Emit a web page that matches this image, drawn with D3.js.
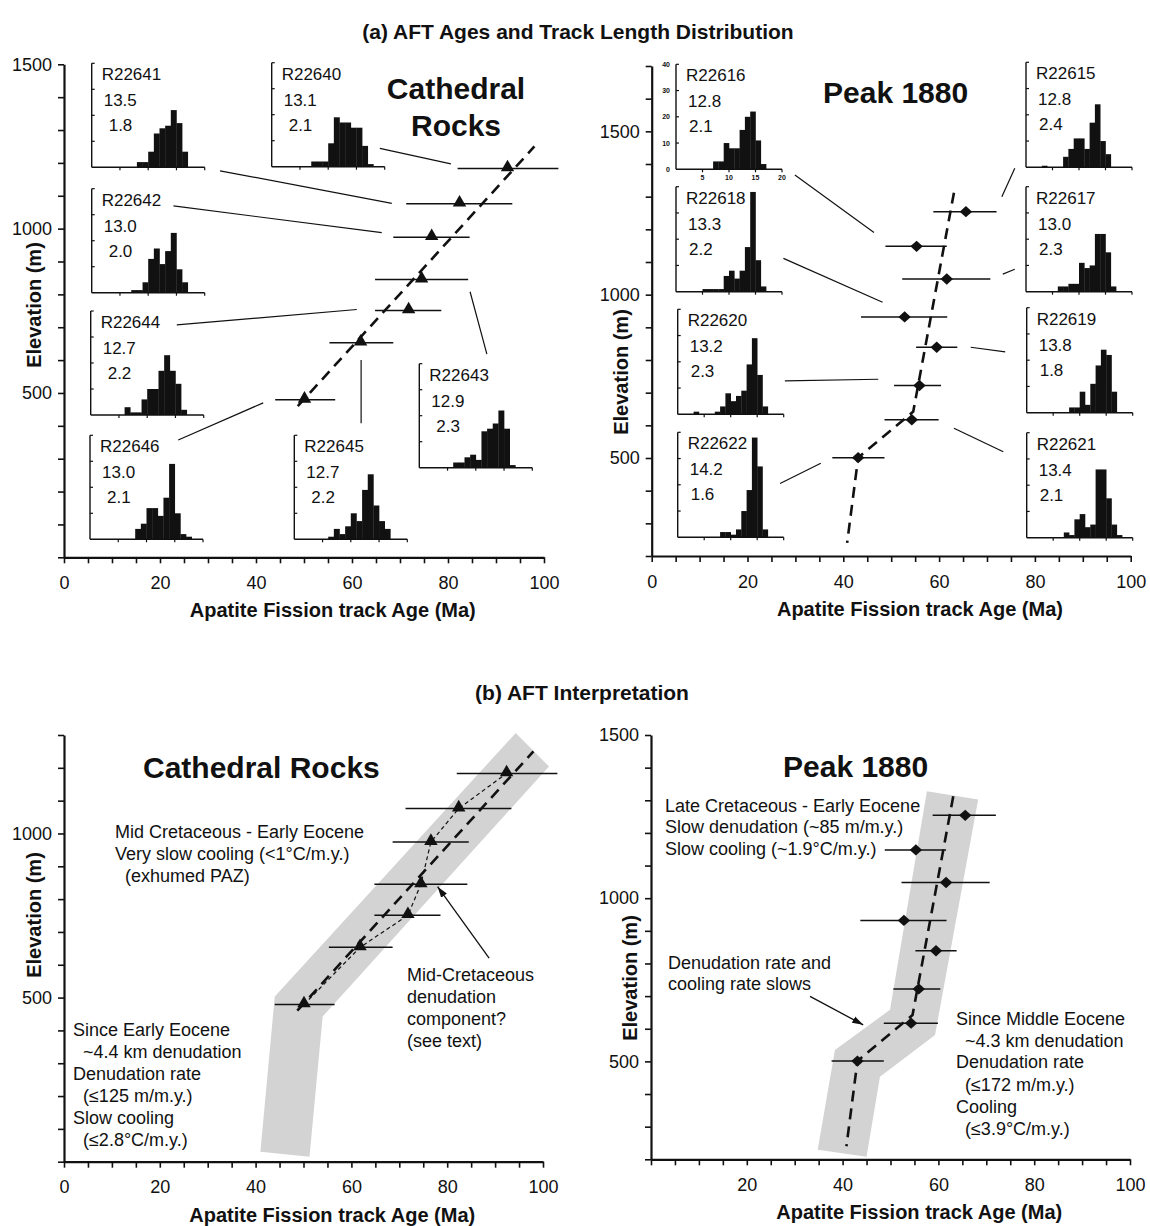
<!DOCTYPE html>
<html>
<head>
<meta charset="utf-8">
<script src="https://cdn.jsdelivr.net/npm/d3@7"></script>
<style>
  body { margin: 0; background: #fff; }
  svg text { font-family: "Liberation Sans", Arial, Helvetica, sans-serif; fill: #111; }
</style>
</head>
<body>
<svg id="fig" width="1150" height="1226"></svg>
<script>
// ---------------- Cathedral Rocks samples (highest to lowest) ----------------
const cathedralSamples   = ["R22640", "R22641", "R22642", "R22643", "R22644", "R22645", "R22646"];
const cathedralAge       = [92.4, 82.4, 76.6, 74.5, 71.8, 61.8, 50.1];      // Ma
const cathedralAgeLo     = [82.0, 71.3, 68.6, 64.8, 64.8, 55.3, 44.0];
const cathedralAgeHi     = [103.0, 93.4, 84.5, 84.2, 78.6, 68.6, 56.5];
const cathedralElev      = [1183, 1076, 974, 845, 751, 653, 479];           // m
const cathedralMeanLen   = ["13.1", "13.5", "13.0", "12.9", "12.7", "12.7", "13.0"];
const cathedralSdLen     = ["2.1", "1.8", "2.0", "2.3", "2.2", "2.2", "2.1"];
const cathedralBinStart  = [7, 8, 7, 6, 6, 6, 8];                           // first 1-µm bin
const cathedralCounts = [
  [2, 2, 2, 9, 19, 17, 17, 15, 15, 8, 1],
  [2, 2, 6, 13, 15, 16, 22, 17, 6],
  [1, 1, 4, 13, 17, 11, 16, 23, 9, 4],
  [2, 2, 4, 5, 3, 14, 15, 17, 22, 15, 1],
  [3, 1, 1, 6, 10, 10, 17, 23, 17, 12, 2],
  [1, 4, 2, 5, 10, 7, 19, 25, 13, 7, 4],
  [4, 6, 12, 12, 9, 16, 29, 10, 2, 1]
];
// leader lines: [age, elevation] from inset to sample
const cathedralLeaderFrom = [[65.8, 1244], [32.5, 1176], [22.8, 1069], [84.6, 808], [23.5, 707], [61.9, 600], [23.8, 357]];
const cathedralLeaderTo   = [[80.6, 1197], [68.3, 1077], [66.2, 988], [88.1, 618], [61.0, 754], [61.9, 408], [41.5, 470]];
// age-elevation trend and interpretation envelope
const cathedralFitAge   = [48.7, 98.0];
const cathedralFitElev  = [460, 1250];
const cathedralBandAge  = [94.3, 101.25, 54.0, 51.25, 41.0, 44.0];
const cathedralBandElev = [1306, 1204, 442, 15, 30, 503];

// ---------------- Peak 1880 samples (highest to lowest) ----------------
const peakSamples   = ["R22615", "R22616", "R22617", "R22618", "R22619", "R22620", "R22621", "R22622"];
const peakAge       = [65.6, 55.3, 61.6, 52.8, 59.5, 55.9, 54.3, 43.1];
const peakAgeLo     = [58.8, 48.8, 52.3, 43.7, 55.2, 50.6, 48.6, 37.7];
const peakAgeHi     = [72.0, 61.6, 70.7, 61.7, 63.8, 60.4, 59.9, 48.6];
const peakElev      = [1254, 1148, 1048, 932, 839, 722, 617, 501];
const peakMeanLen   = ["12.8", "12.8", "13.0", "13.3", "13.8", "13.2", "13.4", "14.2"];
const peakSdLen     = ["2.4", "2.1", "2.3", "2.2", "1.8", "2.3", "2.1", "1.6"];
const peakBinStart  = [3, 7, 6, 5, 8, 3, 7, 8];
const peakCounts = [
  [0.6, 0, 0, 0, 4, 7, 11, 11, 7, 17, 24, 10, 5],
  [3, 3, 10, 8, 8, 15, 20, 22, 11, 2],
  [2, 2, 3, 3, 11, 9, 10, 22, 22, 15, 2],
  [1, 1, 1, 1, 6, 8, 5, 8, 17, 38, 12, 2],
  [2, 2, 8, 3, 11, 18, 24, 22, 8],
  [1, 0, 0, 0, 1, 3, 8, 5, 7, 9, 19, 29, 15, 3],
  [2, 1, 7, 9, 4, 5, 26, 26, 15, 5, 1],
  [2, 2, 1, 3, 10, 18, 38, 27, 3]
];
const peakLeaderFrom = [[75.8, 1387], [29.9, 1366], [75.8, 1078], [27.5, 1111], [73.8, 825], [27.8, 736], [73.4, 519], [26.8, 422]];
const peakLeaderTo   = [[73.1, 1300], [46.4, 1190], [73.3, 1063], [48.2, 977], [66.6, 839], [47.3, 741], [63.1, 591], [35.3, 484]];
const peakFitAge   = [63.1, 54.6, 43.1, 40.8];
const peakFitElev  = [1312, 642, 501, 240];
const peakBandAge  = [57.6, 68.3, 59.3, 47.8, 45.0, 34.8, 38.4, 49.9];
const peakBandElev = [1328, 1302, 581, 453, 208, 229, 535, 658];

// inset scales: track length (µm) and count
const lengthTicks = [5, 10, 15, 20];
const countTicks  = [10, 20, 30, 40];

// ---------------- layout ----------------
const panelLayout = {
  aL: { x0: 64,    x1: 544,    yDomain: [0, 1500],   yBottom: 557.3,  yTop: 64.3, xLabels: [0, 20, 40, 60, 80, 100], yLabels: [500, 1000, 1500], yTitle: [41, 305] },
  aR: { x0: 651.7, x1: 1130.7, yDomain: [200, 1700], yBottom: 556,    yTop: 66,   xLabels: [0, 20, 40, 60, 80, 100], yLabels: [500, 1000, 1500], yTitle: [628, 372] },
  bL: { x0: 64,    x1: 543,    yDomain: [0, 1300],   yBottom: 1161.7, yTop: 735,  xLabels: [0, 20, 40, 60, 80, 100], yLabels: [500, 1000],       yTitle: [41, 915] },
  bR: { x0: 651,   x1: 1130,   yDomain: [200, 1500], yBottom: 1159.3, yTop: 735,  xLabels: [20, 40, 60, 80, 100],    yLabels: [500, 1000, 1500], yTitle: [637, 978] }
};
// inset origin (left axis, baseline) in page pixels
const cathedralInsetPos = [[271.7, 166.7], [91.7, 167.3], [91.7, 292.7], [419.3, 467.7], [90.7, 415], [294.3, 539.3], [90, 539.3]];
const peakInsetPos = [[1026, 167.3], [676, 169.3], [1026, 291.7], [676, 291.7], [1026.7, 412.7], [677.7, 414.3], [1026.7, 537.7], [677.7, 537.3]];

const ink = "#111";
const svg = d3.select("#fig");
const defs = svg.append("defs");
defs.append("marker")
  .attr("id", "arrowhead").attr("viewBox", "0 0 10 10")
  .attr("refX", 10).attr("refY", 5)
  .attr("markerWidth", 11).attr("markerHeight", 11)
  .attr("markerUnits", "userSpaceOnUse").attr("orient", "auto")
  .append("path").attr("d", "M0,1.8 L10,5 L0,8.2 Z").attr("fill", ink);

function makeScales(p) {
  return {
    x: d3.scaleLinear().domain([0, 100]).range([p.x0, p.x1]),
    y: d3.scaleLinear().domain(p.yDomain).range([p.yBottom, p.yTop])
  };
}

function drawAxes(g, S, p) {
  const xAxis = d3.axisBottom(S.x)
    .tickValues(d3.range(0, 101, 5))
    .tickSize(6).tickSizeOuter(0).tickPadding(13)
    .tickFormat(d => p.xLabels.includes(d) ? d : "");
  const gx = g.append("g").attr("transform", `translate(0,${p.yBottom})`).call(xAxis);
  const yAxis = d3.axisLeft(S.y)
    .tickValues(d3.range(p.yDomain[0], p.yDomain[1] + 1, 100))
    .tickSize(6).tickSizeOuter(0).tickPadding(6)
    .tickFormat(d => p.yLabels.includes(d) ? d : "");
  const gy = g.append("g").attr("transform", `translate(${p.x0},0)`).call(yAxis);
  [gx, gy].forEach(a => {
    a.select(".domain").attr("stroke", ink).attr("stroke-width", 2.2);
    a.selectAll(".tick line").attr("stroke", ink).attr("stroke-width", 1.6);
    a.selectAll(".tick text").attr("font-size", 18).attr("fill", ink)
      .attr("font-family", '"Liberation Sans", Arial, sans-serif');
  });
  g.append("text")
    .attr("x", S.x(56)).attr("y", p.yBottom + 60)
    .attr("text-anchor", "middle").attr("font-size", 20).attr("font-weight", "bold")
    .text("Apatite Fission track Age (Ma)");
  g.append("text")
    .attr("transform", `translate(${p.yTitle[0]},${p.yTitle[1]}) rotate(-90)`)
    .attr("text-anchor", "middle").attr("font-size", 20).attr("font-weight", "bold")
    .text("Elevation (m)");
}

function drawErrorBars(g, S, lo, hi, elev) {
  g.append("g").selectAll("line").data(elev).join("line")
    .attr("x1", (d, i) => S.x(lo[i])).attr("x2", (d, i) => S.x(hi[i]))
    .attr("y1", d => S.y(d)).attr("y2", d => S.y(d))
    .attr("stroke", ink).attr("stroke-width", 1.5);
}

function drawFit(g, S, ages, elevs, width, dash) {
  const line = d3.line().x(d => S.x(d[0])).y(d => S.y(d[1]));
  g.append("path").datum(ages.map((a, i) => [a, elevs[i]]))
    .attr("d", line).attr("fill", "none").attr("stroke", ink)
    .attr("stroke-width", width).attr("stroke-dasharray", dash);
}

function drawTriangles(g, S, ages, elevs) {
  const sym = d3.symbol().type(d3.symbolTriangle).size(78);
  g.append("g").selectAll("path").data(ages).join("path")
    .attr("d", sym)
    .attr("transform", (d, i) => `translate(${S.x(d)},${S.y(elevs[i]) - 1})`)
    .attr("fill", ink);
}

function drawDiamonds(g, S, ages, elevs) {
  const sym = d3.symbol().type(d3.symbolSquare).size(64);
  g.append("g").selectAll("path").data(ages).join("path")
    .attr("d", sym)
    .attr("transform", (d, i) => `translate(${S.x(d)},${S.y(elevs[i])}) scale(1.1,1) rotate(45)`)
    .attr("fill", ink);
}

function drawLeaders(g, S, from, to) {
  g.append("g").selectAll("line").data(from).join("line")
    .attr("x1", d => S.x(d[0])).attr("y1", d => S.y(d[1]))
    .attr("x2", (d, i) => S.x(to[i][0])).attr("y2", (d, i) => S.y(to[i][1]))
    .attr("stroke", ink).attr("stroke-width", 1.2);
}

function drawBand(g, S, ages, elevs) {
  g.append("path")
    .datum(ages.map((a, i) => [S.x(a), S.y(elevs[i])]))
    .attr("d", d => "M" + d.join("L") + "Z")
    .attr("fill", "#d3d3d3");
}

// one track-length histogram
function drawInset(g, pos, w, h, name, meanLen, sdLen, start, counts, labelled, sdIndent) {
  const [ox, oy] = pos;
  const lx = d3.scaleLinear().domain([0, 20]).range([ox, ox + w]);
  const ly = d3.scaleLinear().domain([0, 40]).range([oy, oy - h]);
  const ig = g.append("g");
  ig.selectAll("rect").data(counts).join("rect")
    .attr("x", (c, i) => lx(start + i))
    .attr("width", (c, i) => lx(start + i + 1) - lx(start + i) + 0.3)
    .attr("y", c => ly(c))
    .attr("height", c => oy - ly(c))
    .attr("fill", ink);
  ig.append("line").attr("x1", ox).attr("x2", ox + w).attr("y1", oy).attr("y2", oy)
    .attr("stroke", ink).attr("stroke-width", 1.4);
  ig.append("line").attr("x1", ox).attr("x2", ox).attr("y1", oy).attr("y2", oy - h)
    .attr("stroke", ink).attr("stroke-width", 1.4);
  ig.selectAll(".xt").data(lengthTicks).join("line").attr("class", "xt")
    .attr("x1", d => lx(d)).attr("x2", d => lx(d)).attr("y1", oy).attr("y2", oy + 3)
    .attr("stroke", ink).attr("stroke-width", 1.2);
  ig.selectAll(".yt").data(countTicks).join("line").attr("class", "yt")
    .attr("x1", ox).attr("x2", ox + 3).attr("y1", d => ly(d)).attr("y2", d => ly(d))
    .attr("stroke", ink).attr("stroke-width", 1.2);
  if (labelled) {
    ig.selectAll(".xl").data(lengthTicks).join("text").attr("class", "xl")
      .attr("x", d => lx(d)).attr("y", oy + 11)
      .attr("text-anchor", "middle").attr("font-size", 7).attr("font-weight", "bold").text(d => d);
    ig.selectAll(".yl").data([0].concat(countTicks)).join("text").attr("class", "yl")
      .attr("x", ox - 6).attr("y", d => ly(d) + 2.5)
      .attr("text-anchor", "end").attr("font-size", 7).attr("font-weight", "bold").text(d => d);
  }
  const top = oy - h;
  ig.append("text").attr("x", ox + 10).attr("y", top + 17).attr("font-size", 17).text(name);
  ig.append("text").attr("x", ox + 12).attr("y", top + 43).attr("font-size", 17).text(meanLen);
  ig.append("text").attr("x", ox + sdIndent).attr("y", top + 68).attr("font-size", 17).text(sdLen);
}

function addText(g, lines, size, weight) {
  lines.forEach(([t, x, y]) => {
    g.append("text").attr("x", x).attr("y", y).attr("font-size", size)
      .attr("font-weight", weight || "normal").text(t);
  });
}

function addArrow(g, S, from, to) {
  g.append("line")
    .attr("x1", S.x(from[0])).attr("y1", S.y(from[1]))
    .attr("x2", S.x(to[0])).attr("y2", S.y(to[1]))
    .attr("stroke", ink).attr("stroke-width", 1.3)
    .attr("marker-end", "url(#arrowhead)");
}

// ---------------- titles ----------------
svg.append("text").attr("x", 578).attr("y", 39).attr("text-anchor", "middle")
  .attr("font-size", 21).attr("font-weight", "bold")
  .text("(a) AFT Ages and Track Length Distribution");
svg.append("text").attr("x", 582).attr("y", 700).attr("text-anchor", "middle")
  .attr("font-size", 21).attr("font-weight", "bold")
  .text("(b) AFT Interpretation");

// ---------------- (a) Cathedral Rocks ----------------
{
  const p = panelLayout.aL, S = makeScales(p), g = svg.append("g");
  drawLeaders(g, S, cathedralLeaderFrom, cathedralLeaderTo);
  cathedralSamples.forEach((s, i) =>
    drawInset(g, cathedralInsetPos[i], 113, 104, s, cathedralMeanLen[i], cathedralSdLen[i],
      cathedralBinStart[i], cathedralCounts[i], false, 17));
  drawFit(g, S, cathedralFitAge, cathedralFitElev, 2.6, "11,7");
  drawErrorBars(g, S, cathedralAgeLo, cathedralAgeHi, cathedralElev);
  drawTriangles(g, S, cathedralAge, cathedralElev);
  drawAxes(g, S, p);
  g.append("text").attr("x", 456).attr("y", 99).attr("text-anchor", "middle")
    .attr("font-size", 30).attr("font-weight", "bold").text("Cathedral");
  g.append("text").attr("x", 456).attr("y", 136).attr("text-anchor", "middle")
    .attr("font-size", 30).attr("font-weight", "bold").text("Rocks");
}

// ---------------- (a) Peak 1880 ----------------
{
  const p = panelLayout.aR, S = makeScales(p), g = svg.append("g");
  drawLeaders(g, S, peakLeaderFrom, peakLeaderTo);
  peakSamples.forEach((s, i) =>
    drawInset(g, peakInsetPos[i], 106, 105, s, peakMeanLen[i], peakSdLen[i],
      peakBinStart[i], peakCounts[i], s === "R22616", 13));
  drawFit(g, S, peakFitAge, peakFitElev, 2.6, "11,7");
  drawErrorBars(g, S, peakAgeLo, peakAgeHi, peakElev);
  drawDiamonds(g, S, peakAge, peakElev);
  drawAxes(g, S, p);
  g.append("text").attr("x", 823).attr("y", 103).attr("font-size", 30)
    .attr("font-weight", "bold").text("Peak 1880");
}

// ---------------- (b) Cathedral Rocks interpretation ----------------
{
  const p = panelLayout.bL, S = makeScales(p), g = svg.append("g");
  drawBand(g, S, cathedralBandAge, cathedralBandElev);
  drawErrorBars(g, S, cathedralAgeLo, cathedralAgeHi, cathedralElev);
  drawFit(g, S, cathedralFitAge, cathedralFitElev, 2.6, "11,7");
  const byElev = d3.range(cathedralAge.length).sort((a, b) => cathedralElev[a] - cathedralElev[b]);
  drawFit(g, S, byElev.map(i => cathedralAge[i]), byElev.map(i => cathedralElev[i]), 1.2, "4,3");
  drawTriangles(g, S, cathedralAge, cathedralElev);
  drawAxes(g, S, p);
  addText(g, [["Cathedral Rocks", 143, 778]], 30, "bold");
  addText(g, [
    ["Mid Cretaceous - Early Eocene", 115, 838],
    ["Very slow cooling (<1°C/m.y.)", 115, 860],
    ["(exhumed PAZ)", 125, 882],
    ["Since Early Eocene", 73, 1036],
    ["~4.4 km denudation", 83, 1058],
    ["Denudation rate", 73, 1080],
    ["(≤125 m/m.y.)", 83, 1102],
    ["Slow cooling", 73, 1124],
    ["(≤2.8°C/m.y.)", 83, 1146],
    ["Mid-Cretaceous", 407, 981],
    ["denudation", 407, 1003],
    ["component?", 407, 1025],
    ["(see text)", 407, 1047]
  ], 18);
  addArrow(g, S, [88.75, 620], [78.0, 838]);
}

// ---------------- (b) Peak 1880 interpretation ----------------
{
  const p = panelLayout.bR, S = makeScales(p), g = svg.append("g");
  drawBand(g, S, peakBandAge, peakBandElev);
  drawErrorBars(g, S, peakAgeLo, peakAgeHi, peakElev);
  drawFit(g, S, peakFitAge, peakFitElev, 2.6, "11,7");
  drawDiamonds(g, S, peakAge, peakElev);
  drawAxes(g, S, p);
  addText(g, [["Peak 1880", 783, 777]], 30, "bold");
  addText(g, [
    ["Late Cretaceous - Early Eocene", 665, 812],
    ["Slow denudation (~85 m/m.y.)", 665, 833],
    ["Slow cooling (~1.9°C/m.y.)", 665, 855],
    ["Denudation rate and", 668, 969],
    ["cooling rate slows", 668, 990],
    ["Since Middle Eocene", 956, 1025],
    ["~4.3 km denudation", 965, 1047],
    ["Denudation rate", 956, 1068],
    ["(≤172 m/m.y.)", 965, 1091],
    ["Cooling", 956, 1113],
    ["(≤3.9°C/m.y.)", 965, 1135]
  ], 18);
  addArrow(g, S, [33.2, 699], [44.3, 612]);
}
</script>
</body>
</html>
